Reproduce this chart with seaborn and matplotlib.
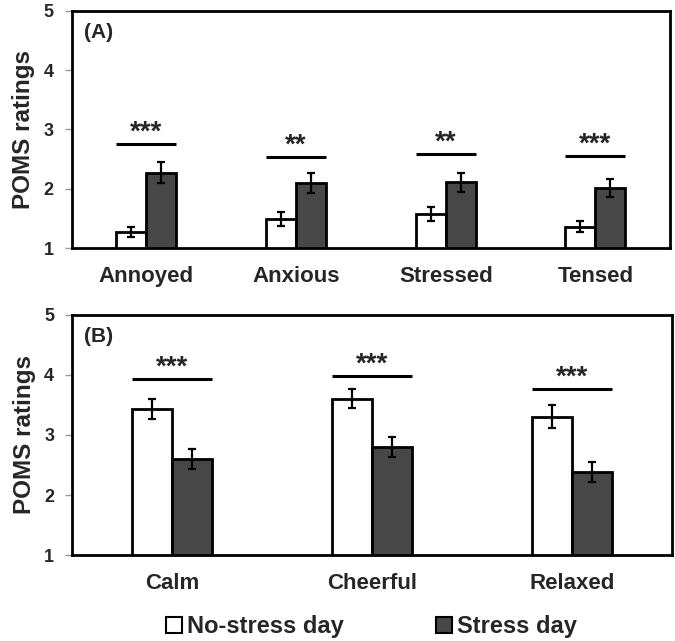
import matplotlib
matplotlib.use('Agg')
import pandas as pd
import numpy as np
import matplotlib.pyplot as plt
import seaborn as sns
from matplotlib.patches import Patch

# Panel A: negative moods
cats_a = ["Annoyed", "Anxious", "Stressed", "Tensed"]
nostress_a = [1.27, 1.49, 1.57, 1.36]
nostress_err_a = [0.09, 0.12, 0.12, 0.09]
stress_a = [2.27, 2.10, 2.11, 2.01]
stress_err_a = [0.18, 0.17, 0.16, 0.15]
sig_a = ["***", "**", "**", "***"]
sig_y_a = [2.76, 2.54, 2.59, 2.55]

# Panel B: positive moods
cats_b = ["Calm", "Cheerful", "Relaxed"]
nostress_b = [3.43, 3.60, 3.30]
nostress_err_b = [0.17, 0.16, 0.19]
stress_b = [2.60, 2.80, 2.38]
stress_err_b = [0.17, 0.17, 0.17]
sig_b = ["***", "***", "***"]
sig_y_b = [3.93, 3.98, 3.77]

conditions = ["No-stress day", "Stress day"]
colores = {"No-stress day": "white", "Stress day": "#474747"}

sns.set_theme(style="white")
plt.rcParams['font.family'] = ['Liberation Sans', 'DejaVu Sans']
plt.rcParams['font.weight'] = 'bold'


def armar_df(cats, ns, st):
    return pd.DataFrame({
        "categoria": cats * 2,
        "condicion": [conditions[0]] * len(cats) + [conditions[1]] * len(cats),
        "valor": ns + st,
    })


def dibujar(ax, cats, ns, ns_err, st, st_err, sig, sig_y, etiqueta):
    df = armar_df(cats, ns, st)
    sns.barplot(data=df, x="categoria", y="valor", hue="condicion", order=cats,
                hue_order=conditions, palette=colores, width=0.4, gap=0,
                edgecolor="black", linewidth=2, errorbar=None, legend=False, ax=ax)
    for cont, errs in zip(ax.containers, [ns_err, st_err]):
        xs = [p.get_x() + p.get_width() / 2 for p in cont]
        ys = [p.get_height() + p.get_y() for p in cont]
        ax.errorbar(xs, ys, yerr=errs, fmt="none", ecolor="black",
                    elinewidth=1.6, capsize=3, capthick=1.6, zorder=5)
    for i, (s, y) in enumerate(zip(sig, sig_y)):
        ax.plot([i - 0.2, i + 0.2], [y, y], color="black", lw=2.2, solid_capstyle="butt")
        ax.text(i, y + 0.07, s, ha="center", va="baseline", fontsize=20, fontweight="bold")
    ax.set_ylim(1, 5)
    ax.set_xlim(-0.5, len(cats) - 0.5)
    ax.set_yticks([1, 2, 3, 4, 5])
    ax.set_xlabel("")
    ax.set_ylabel("POMS ratings", fontsize=17.5, fontweight="bold", labelpad=6)
    ax.tick_params(axis="y", which="both", left=True, length=5, width=1, color="#999999",
                   labelsize=13, pad=8)
    ax.tick_params(axis="x", length=0, labelsize=16, pad=13)
    for lab in ax.get_xticklabels() + ax.get_yticklabels():
        lab.set_fontweight("bold")
    for sp in ax.spines.values():
        sp.set_visible(True)
        sp.set_color("black")
        sp.set_linewidth(2)
    ax.text(0.02, 0.95, etiqueta, transform=ax.transAxes, ha="left", va="top",
            fontsize=15, fontweight="bold")


fig = plt.figure(figsize=(6.75, 6.41), dpi=100)
ax_a = fig.add_axes([0.106, 0.613, 0.887, 0.370])
ax_b = fig.add_axes([0.107, 0.134, 0.888, 0.375])

dibujar(ax_a, cats_a, nostress_a, nostress_err_a, stress_a, stress_err_a, sig_a, sig_y_a, "(A)")
dibujar(ax_b, cats_b, nostress_b, nostress_err_b, stress_b, stress_err_b, sig_b, sig_y_b, "(B)")

handles = [Patch(facecolor=colores[c], edgecolor="black", linewidth=1.5) for c in conditions]
fig.legend(handles, conditions, loc="center", bbox_to_anchor=(0.55, 0.022), ncol=2,
           frameon=False, prop={"size": 17, "weight": "bold"}, handlelength=0.7,
           handleheight=0.7, handletextpad=0.2, columnspacing=3.9, borderpad=0)

fig.savefig("out.png", dpi=100)
